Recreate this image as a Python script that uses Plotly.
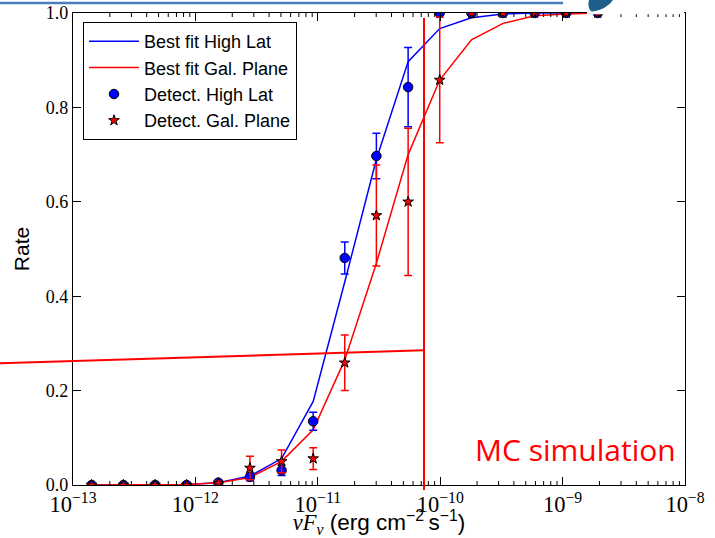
import plotly.graph_objects as go

# ---- data ----
flux = [1.42e-13, 2.58e-13, 4.68e-13, 8.48e-13, 1.54e-12, 2.79e-12, 5.06e-12,
        9.17e-12, 1.66e-11, 3.01e-11, 5.47e-11, 9.91e-11, 1.80e-10, 3.26e-10,
        5.91e-10, 1.07e-9, 1.94e-9]
fit_high = [0, 0, 0, 0.001, 0.005, 0.019, 0.056, 0.177, 0.43, 0.69, 0.897,
            0.967, 0.990, 0.998, 1.0, 1.0, 1.0]
fit_plane = [0, 0, 0, 0.001, 0.005, 0.016, 0.050, 0.117, 0.265, 0.47, 0.70,
             0.858, 0.943, 0.978, 0.994, 0.998, 1.0]
det_high = [0, 0, 0, 0, 0.005, 0.017, 0.031, 0.135, 0.481, 0.697, 0.843,
            1.0, 1.0, 1.0, 1.0, 1.0, 1.0]
err_high = [0, 0, 0, 0, 0.003, 0.008, 0.011, 0.019, 0.034, 0.048, 0.084,
            0, 0, 0, 0, 0, 0]
det_plane = [0, 0, 0, 0, 0.004, 0.036, 0.050, 0.056, 0.259, 0.571, 0.600,
             0.858, 1.0, 1.0, 1.0, 1.0, 1.0]
err_plane = [0, 0, 0, 0, 0.004, 0.025, 0.024, 0.023, 0.059, 0.107, 0.156,
             0.133, 0, 0, 0, 0, 0]

y_ticks = [0.0, 0.2, 0.4, 0.6, 0.8, 1.0]
y_tick_text = ["0.0", "0.2", "0.4", "0.6", "0.8", "1.0"]
decades = [-13, -12, -11, -10, -9]
minor_digits = [2, 3, 4, 5, 6, 7, 8, 9]
minor_ticks = [d * 10.0 ** e for e in decades for d in minor_digits]

W, H = 715, 538
L, R, T, B = 73, 685, 13, 485


def px(x):
    return (x - L) / (R - L)


def py(y):
    return (B - y) / (B - T)


fig = go.Figure()
fig.add_trace(go.Scatter(x=flux, y=fit_high, mode="lines", name="Best fit High Lat",
                         line=dict(color="#0000ff", width=1.5)))
fig.add_trace(go.Scatter(x=flux, y=fit_plane, mode="lines", name="Best fit Gal. Plane",
                         line=dict(color="#ff0000", width=1.5)))
fig.add_trace(go.Scatter(x=flux, y=det_high, mode="markers", name="Detect. High Lat",
                         marker=dict(symbol="circle", size=9.5, color="#0000ff",
                                     line=dict(color="black", width=1)),
                         error_y=dict(type="data", array=err_high, color="#0000ff",
                                      thickness=1.5, width=4)))
fig.add_trace(go.Scatter(x=flux, y=det_plane, mode="markers", name="Detect. Gal. Plane",
                         marker=dict(symbol="star", size=8, color="#ff0000",
                                     line=dict(color="black", width=1)),
                         error_y=dict(type="data", array=err_plane, color="#ff0000",
                                      thickness=1.5, width=4)))

tick_font = dict(family="Liberation Serif", size=18, color="black")
axis_common = dict(showline=True, linecolor="black", linewidth=1.3, mirror="allticks",
                   ticks="inside", tickcolor="black", ticklen=8, tickwidth=1,
                   showgrid=False, zeroline=False, tickfont=tick_font)

x_title = ("<span style=\"font-family:'Liberation Serif'\"><i>νF<sub>ν</sub></i></span>"
           " (erg cm<sup>−2</sup>\u2009s<sup>−1</sup>)")

fig.update_layout(
    xaxis=dict(type="log", range=[-13, -8], dtick=1, exponentformat="power",
               title=dict(text=x_title,
                          font=dict(family="Liberation Sans", size=22.5, color="black"),
                          standoff=2),
               **axis_common),
    yaxis=dict(range=[0, 1], tickvals=y_ticks, ticktext=y_tick_text,
               title=dict(text="Rate", font=dict(family="Liberation Sans", size=21,
                                                 color="black"), standoff=10),
               **axis_common),
)

minor_len = 4 / (B - T)
shapes = []
for v in minor_ticks:
    shapes.append(dict(type="line", xref="x", yref="paper", x0=v, x1=v, y0=0, y1=minor_len,
                       line=dict(color="black", width=1), layer="above"))
    shapes.append(dict(type="line", xref="x", yref="paper", x0=v, x1=v, y0=1 - minor_len, y1=1,
                       line=dict(color="black", width=1), layer="above"))

shapes += [
    # slide decoration line at top
    dict(type="line", xref="paper", yref="paper", x0=px(0), y0=py(3), x1=px(563), y1=py(3),
         line=dict(color="#4a7ebb", width=2.5)),
    # slide icon
    dict(type="path", xref="paper", yref="paper",
         path=(f"M {px(589)},{py(0)} L {px(613)},{py(0)} Q {px(607)},{py(9)} {px(592)},{py(12)} "
               f"Q {px(587)},{py(8)} {px(589)},{py(0)} Z"),
         fillcolor="#1f5d8c", line=dict(width=0)),
    # hide part of top spine
    dict(type="rect", xref="paper", yref="paper", x0=px(587), x1=px(684), y0=py(14.2), y1=py(11.5),
         fillcolor="white", line=dict(width=0)),
    # red annotation lines
    dict(type="line", xref="paper", yref="paper", x0=px(0), y0=py(363.3), x1=px(424), y1=py(350.3),
         line=dict(color="#ff0000", width=2)),
    dict(type="line", xref="paper", yref="paper", x0=px(424), y0=py(18), x1=px(424), y1=py(490),
         line=dict(color="#ff0000", width=2)),
]

fig.update_layout(
    width=W, height=H,
    margin=dict(l=L, r=W - R, t=T, b=H - B, autoexpand=False),
    paper_bgcolor="white", plot_bgcolor="white",
    shapes=shapes,
    showlegend=True,
    legend=dict(x=px(83), y=py(22), xanchor="left", yanchor="top",
                bordercolor="black", borderwidth=1, bgcolor="white",
                font=dict(family="Liberation Sans", size=18, color="black"),
                itemwidth=50, tracegroupgap=0),
    annotations=[dict(text="MC simulation", xref="paper", yref="paper",
                      x=px(575), y=py(449), xanchor="center", yanchor="middle",
                      showarrow=False,
                      font=dict(family="Open Sans", size=30, color="#ff0000"))],
)

fig.write_html("out.html")
